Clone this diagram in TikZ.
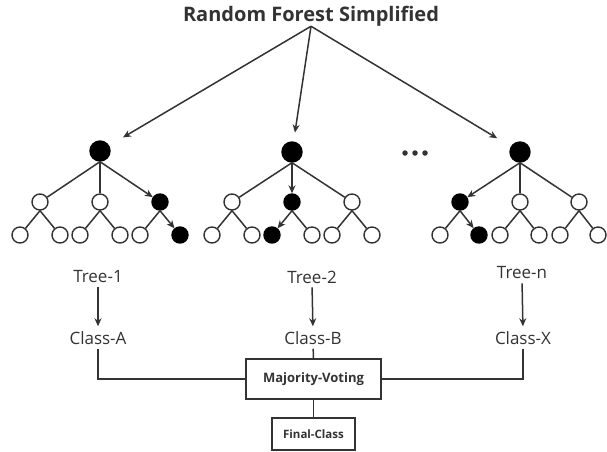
\documentclass[tikz,border=0pt]{standalone}
\usepackage{fontspec}
\setmainfont{Open Sans}
\usetikzlibrary{arrows.meta}
\definecolor{ink}{HTML}{333333}
\begin{document}
\begin{tikzpicture}[x=1pt,y=-1pt,
  whitenode/.style={circle,draw=ink,fill=white,line width=1.4pt,minimum size=16pt,inner sep=0pt},
  blacknode/.style={whitenode,fill=black,draw=black},
  rootnode/.style={blacknode,minimum size=20pt},
  edge/.style={draw=ink,line width=1.5pt},
  arr/.style={edge,-{Stealth[length=8pt,width=7pt]}},
  lbl/.style={text=ink,font=\fontsize{17}{20}\selectfont,inner sep=0pt},
  titlestyle/.style={text=ink,font=\fontsize{20}{24}\selectfont\bfseries,inner sep=0pt},
  boxstyle/.style={draw=ink,line width=1.6pt,text=ink,font=\bfseries,inner sep=0pt},
  dotstyle/.style={circle,fill=ink,inner sep=0pt,minimum size=5.5pt}
]
\useasboundingbox (0,0) rectangle (607,451);
\fill[white] (0,0) rectangle (607,451);

\node[titlestyle] (title) at (311,16) {Random Forest Simplified};

% ---------- Tree 1 ----------
\node[rootnode] (t1r) at (100,151) {};
\node[whitenode] (t1c1) at (40,202) {};
\node[whitenode] (t1c2) at (100,202) {};
\node[blacknode] (t1c3) at (160,202) {};
\node[whitenode] (t1l1) at (20,235) {};
\node[whitenode] (t1l2) at (60,235) {};
\node[whitenode] (t1l3) at (80,235) {};
\node[whitenode] (t1l4) at (120,235) {};
\node[whitenode] (t1l5) at (140,235) {};
\node[blacknode] (t1l6) at (180,235) {};
\draw[edge] (t1r.south) -- (t1c1);
\draw[edge] (t1r.south) -- (t1c2);
\draw[arr] (t1r.south) -- (t1c3);
\draw[edge] (t1c1.south) -- (t1l1);
\draw[edge] (t1c1.south) -- (t1l2);
\draw[edge] (t1c2.south) -- (t1l3);
\draw[edge] (t1c2.south) -- (t1l4);
\draw[edge] (t1c3.south) -- (t1l5);
\draw[arr] (t1c3.south) -- (t1l6);

% ---------- Tree 2 ----------
\node[rootnode] (t2r) at (292,152) {};
\node[whitenode] (t2c1) at (232,202) {};
\node[blacknode] (t2c2) at (292,202) {};
\node[whitenode] (t2c3) at (352,202) {};
\node[whitenode] (t2l1) at (212,235) {};
\node[whitenode] (t2l2) at (252,235) {};
\node[blacknode] (t2l3) at (272,235) {};
\node[whitenode] (t2l4) at (312,235) {};
\node[whitenode] (t2l5) at (332,235) {};
\node[whitenode] (t2l6) at (372,235) {};
\draw[edge] (t2r.south) -- (t2c1);
\draw[arr] (t2r.south) -- (t2c2);
\draw[edge] (t2r.south) -- (t2c3);
\draw[edge] (t2c1.south) -- (t2l1);
\draw[edge] (t2c1.south) -- (t2l2);
\draw[arr] (t2c2.south) -- (t2l3);
\draw[edge] (t2c2.south) -- (t2l4);
\draw[edge] (t2c3.south) -- (t2l5);
\draw[edge] (t2c3.south) -- (t2l6);

% ---------- Tree 3 ----------
\node[rootnode] (t3r) at (520,152) {};
\node[blacknode] (t3c1) at (460,202) {};
\node[whitenode] (t3c2) at (520,202) {};
\node[whitenode] (t3c3) at (579,202) {};
\node[whitenode] (t3l1) at (440,235) {};
\node[blacknode] (t3l2) at (479,235) {};
\node[whitenode] (t3l3) at (500,235) {};
\node[whitenode] (t3l4) at (539,235) {};
\node[whitenode] (t3l5) at (560,235) {};
\node[whitenode] (t3l6) at (598,235) {};
\draw[arr] (t3r.south) -- (t3c1);
\draw[edge] (t3r.south) -- (t3c2);
\draw[edge] (t3r.south) -- (t3c3);
\draw[edge] (t3c1.south) -- (t3l1);
\draw[arr] (t3c1.south) -- (t3l2);
\draw[edge] (t3c2.south) -- (t3l3);
\draw[edge] (t3c2.south) -- (t3l4);
\draw[edge] (t3c3.south) -- (t3l5);
\draw[edge] (t3c3.south) -- (t3l6);

% dots
\node[dotstyle] (d1) at (405,153) {};
\node[dotstyle] (d2) at (415,153) {};
\node[dotstyle] (d3) at (425,153) {};

% title arrows
\draw[arr,shorten >=16pt] (title.south) -- (t1r);
\draw[arr,shorten >=9pt] (title.south) -- (t2r);
\draw[arr,shorten >=16pt] (title.south) -- (t3r);

% labels
\node[lbl] (tr1) at (98,277) {Tree-1};
\node[lbl] (tr2) at (312,277) {Tree-2};
\node[lbl] (trn) at (522,273) {Tree-n};
\node[lbl] (ca) at (98,338) {Class-A};
\node[lbl] (cb) at (313,338) {Class-B};
\node[lbl] (cx) at (523,338) {Class-X};

\draw[arr,shorten <=4pt,shorten >=5pt] (tr1.south) -- (ca.north);
\draw[arr,shorten <=4pt,shorten >=5pt] (tr2.south) -- (cb.north);
\draw[arr,shorten <=4pt,shorten >=5pt] (trn.south) -- (cx.north);

% boxes
\node[boxstyle,minimum width=135pt,minimum height=40pt,font=\fontsize{13}{15}\selectfont\bfseries] (mv) at (313.5,379) {Majority-Voting};
\node[boxstyle,minimum width=83pt,minimum height=32pt,font=\fontsize{11.5}{14}\selectfont\bfseries] (fc) at (313.5,434) {Final-Class};

\draw[edge,shorten <=4pt] (ca.south) |- (mv.west);
\draw[edge,shorten <=4pt] (cb.south) -- (mv.north);
\draw[edge,shorten <=4pt] (cx.south) |- (mv.east);
\draw[edge] (mv.south) -- (fc.north);
\end{tikzpicture}
\end{document}
